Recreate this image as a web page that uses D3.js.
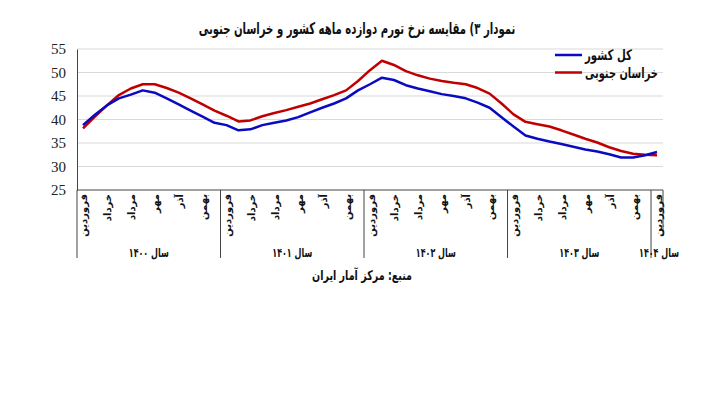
<!DOCTYPE html>
<html><head><meta charset="utf-8">
<script src="https://cdn.jsdelivr.net/npm/d3@7"></script>
<style>body{margin:0;background:#fff}svg{display:block}</style>
</head><body>
<script>
const title = "نمودار ۳) مقایسه نرخ تورم دوازده ماهه کشور و خراسان جنوبی";
const source = "منبع: مرکز آمار ایران";
const monthNames = ["فروردین","اردیبهشت","خرداد","تیر","مرداد","شهریور","مهر","آبان","آذر","دی","بهمن","اسفند"];
const yearLabels = ["سال ۱۴۰۰","سال ۱۴۰۱","سال ۱۴۰۲","سال ۱۴۰۳","سال ۱۴۰۴"];
const yearMonthCounts = [12,12,12,12,1];
const seriesNames = ["کل کشور","خراسان جنوبی"];
const countryValues = [38.8,41.0,43.0,44.5,45.3,46.2,45.7,44.5,43.2,41.9,40.6,39.3,
  38.8,37.7,37.9,38.8,39.3,39.8,40.5,41.5,42.5,43.4,44.5,46.2,
  47.5,48.9,48.4,47.3,46.6,46.0,45.4,45.0,44.5,43.6,42.5,40.5,
  38.5,36.6,35.9,35.3,34.8,34.2,33.6,33.2,32.6,31.9,31.9,32.4,
  33.1];
const khorasanValues = [38.1,40.6,43.0,45.2,46.6,47.5,47.5,46.7,45.7,44.5,43.2,41.9,
  40.8,39.6,39.8,40.7,41.4,42.0,42.7,43.4,44.3,45.2,46.2,48.2,
  50.5,52.5,51.6,50.3,49.4,48.7,48.2,47.8,47.5,46.7,45.5,43.4,
  41.1,39.5,39.0,38.5,37.7,36.8,35.9,35.1,34.1,33.3,32.7,32.5,
  32.4];
const yTicks = [25,30,35,40,45,50,55];

const W = 720, H = 395;
const svg = d3.select("body").append("svg").attr("width", W).attr("height", H);
const fa = "DejaVu Sans, Noto Sans, sans-serif";

// place a text at (x0,y0) and squeeze it horizontally to a target width
function fitText(g, str, x0, y0, size, target, anchor) {
  const t = g.append("text").attr("x", 0).attr("y", 0)
    .attr("text-anchor", anchor).attr("font-family", fa).attr("font-size", size)
    .attr("font-weight", "bold").attr("fill", "#111").text(str);
  const w = t.node().getComputedTextLength();
  const sx = w > 0 ? Math.min(1.2, target / w) : 1;
  t.attr("transform", `translate(${x0},${y0}) scale(${sx},1)`);
  return t;
}

// categories
const cats = [];
yearMonthCounts.forEach((n, yi) => { for (let m = 0; m < n; m++) cats.push({yi, m}); });
const idx = cats.map((d, i) => i);

const x = d3.scaleBand().domain(idx).range([77, 663]).paddingInner(0).paddingOuter(0);
const y = d3.scaleLinear().domain([25, 55]).range([190, 49]);
const cx = i => x(i) + x.bandwidth() / 2;

// gridlines
svg.append("g").selectAll("line").data(yTicks.filter(t => t > 25)).join("line")
  .attr("x1", 77).attr("x2", 663).attr("y1", d => y(d)).attr("y2", d => y(d))
  .attr("stroke", "#d9d9d9").attr("stroke-width", 1);

// y axis
const yAxis = svg.append("g").attr("transform", "translate(77,0)")
  .call(d3.axisLeft(y).tickValues(yTicks).tickSize(0).tickPadding(11));
yAxis.attr("font-family", "Times New Roman, Liberation Serif, serif").attr("font-size", 15);
yAxis.select(".domain").attr("stroke", "#444").attr("stroke-width", 1);
yAxis.selectAll("text").attr("fill", "#222");

// x axis line
svg.append("line").attr("x1", 77).attr("x2", 663).attr("y1", y(25)).attr("y2", y(25))
  .attr("stroke", "#444").attr("stroke-width", 1);

// group separators
let start = 0;
const seps = [];
yearMonthCounts.forEach((n) => { seps.push(start); start += n; });
svg.append("g").selectAll("line").data(seps).join("line")
  .attr("x1", d => x(d)).attr("x2", d => x(d))
  .attr("y1", y(25)).attr("y2", 258)
  .attr("stroke", "#444").attr("stroke-width", 1);
svg.append("line").attr("x1", 663).attr("x2", 663).attr("y1", y(25)).attr("y2", 236)
  .attr("stroke", "#444").attr("stroke-width", 1);

// month labels
svg.append("g").selectAll("text").data(idx.filter(i => cats[i].m % 2 === 0)).join("text")
  .attr("transform", i => `translate(${cx(i) + 1},194) rotate(-90)`)
  .attr("text-anchor", "end").attr("dy", "0.35em")
  .attr("font-family", fa).attr("font-size", 10).attr("font-weight", "bold").attr("fill", "#111")
  .text(i => monthNames[cats[i].m]);

// year labels
start = 0;
const yearPos = yearMonthCounts.map((n, yi) => { const s = start; start += n; return {yi, s, n}; });
const yg = svg.append("g");
yearPos.forEach(d => {
  const xm = (x(d.s) + x(d.s + d.n - 1) + x.bandwidth()) / 2 + (d.n === 1 ? 2 : 0);
  fitText(yg, yearLabels[d.yi], xm, 257, 12.5, 40, "middle");
});

// lines
const line = d3.line().x((d, i) => cx(i)).y(d => y(d));
svg.append("path").datum(khorasanValues).attr("d", line)
  .attr("fill", "none").attr("stroke", "#c00000").attr("stroke-width", 2.5).attr("stroke-linejoin", "round");
svg.append("path").datum(countryValues).attr("d", line)
  .attr("fill", "none").attr("stroke", "#0a0ac0").attr("stroke-width", 2.5).attr("stroke-linejoin", "round");

// legend
const legend = [{name: seriesNames[0], color: "#0a0ac0", yy: 55, w: 47}, {name: seriesNames[1], color: "#c00000", yy: 72.5, w: 73}];
const lg = svg.append("g");
lg.selectAll("line").data(legend).join("line")
  .attr("x1", 555).attr("x2", 582).attr("y1", d => d.yy).attr("y2", d => d.yy)
  .attr("stroke", d => d.color).attr("stroke-width", 2.5);
legend.forEach(d => fitText(lg, d.name, 585, d.yy + 5, 14.5, d.w, "start"));

// title
fitText(svg, title, 357, 34, 16, 317, "middle");

// source
fitText(svg, source, 362, 280, 13.5, 100, "middle");
</script>
</body></html>
